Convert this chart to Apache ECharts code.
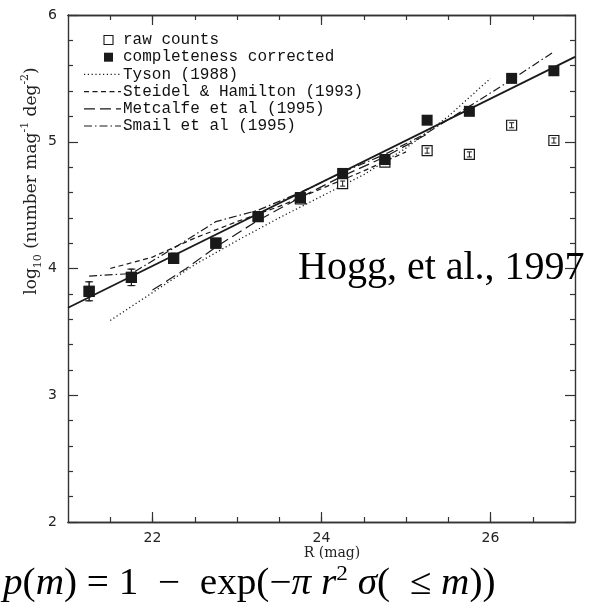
<!DOCTYPE html>
<html>
<head>
<meta charset="utf-8">
<script src="https://cdn.jsdelivr.net/npm/echarts@6/dist/echarts.min.js"></script>
<style>
  html, body { margin: 0; padding: 0; background: #ffffff; }
  #chart { width: 590px; height: 609px; }
</style>
</head>
<body>
<div id="chart"></div>
<script>
// Galaxy number counts in R, half-magnitude bins
const magBins = [21.25, 21.75, 22.25, 22.75, 23.25, 23.75, 24.25, 24.75, 25.25, 25.75, 26.25, 26.75];
const correctedCounts = [3.82, 3.93, 4.08, 4.20, 4.41, 4.56, 4.75, 4.86, 5.17, 5.24, 5.50, 5.56];
const correctedErr    = [0.075, 0.065, 0.04, 0.02, 0.02, 0.015, 0.015, 0.015, 0.015, 0.015, 0.015, 0.015];
const rawCounts       = [3.82, 3.93, 4.08, 4.20, 4.41, 4.55, 4.67, 4.84, 4.93, 4.90, 5.13, 5.01];
const rawErr          = [0.075, 0.065, 0.04, 0.02, 0.02, 0.02, 0.02, 0.02, 0.02, 0.02, 0.02, 0.02];

// Power-law fit across the full range
const fitMag = [21, 27];
const fitCounts = [3.69, 5.67];

// Published count curves
const tysonMag = [21.5, 22.0, 22.5, 23.0, 23.5, 24.0, 24.5, 25.0, 25.5, 26.0];
const tysonCounts = [3.59, 3.81, 4.03, 4.22, 4.40, 4.57, 4.74, 4.95, 5.20, 5.50];
const steidelMag = [21.5, 22.0, 22.5, 23.0, 23.5, 24.0, 24.5, 25.0];
const steidelCounts = [4.00, 4.09, 4.24, 4.37, 4.49, 4.63, 4.77, 4.92];
const metcalfeMag = [22.0, 22.4, 22.75, 23.25, 23.75, 24.25, 24.75, 25.25];
const metcalfeCounts = [3.83, 4.00, 4.17, 4.38, 4.56, 4.73, 4.88, 5.06];
const smailMag = [21.25, 21.75, 22.25, 22.75, 23.25, 23.75, 24.25, 24.75, 25.25, 25.75, 26.25, 26.75];
const smailCounts = [3.94, 3.96, 4.16, 4.37, 4.46, 4.60, 4.76, 4.90, 5.07, 5.28, 5.49, 5.71];

// Axis ticks
const xMajorTicks = [22, 24, 26];
const xMinorTicks = [21.5, 22, 22.5, 23, 23.5, 24, 24.5, 25, 25.5, 26, 26.5];
const xTickLabels = [22, 24, 26];

const legendNames = ['raw counts', 'completeness corrected', 'Tyson (1988)',
  'Steidel & Hamilton (1993)', 'Metcalfe et al (1995)', 'Smail et al (1995)'];

const ink = '#1a1a1a';
const zip = (xs, ys) => xs.map((x, i) => [x, ys[i]]);

function errorBars(name, xs, ys, errs, capHalf, z) {
  return {
    type: 'custom',
    name: name,
    z: z,
    silent: true,
    encode: { x: 0, y: [1, 2] },
    data: xs.map((x, i) => [x, ys[i] - errs[i], ys[i] + errs[i]]),
    renderItem: function (params, api) {
      const lo = api.coord([api.value(0), api.value(1)]);
      const hi = api.coord([api.value(0), api.value(2)]);
      const st = { stroke: ink, lineWidth: 1 };
      return {
        type: 'group',
        children: [
          { type: 'line', shape: { x1: lo[0], y1: lo[1], x2: hi[0], y2: hi[1] }, style: st },
          { type: 'line', shape: { x1: lo[0] - capHalf, y1: lo[1], x2: lo[0] + capHalf, y2: lo[1] }, style: st },
          { type: 'line', shape: { x1: hi[0] - capHalf, y1: hi[1], x2: hi[0] + capHalf, y2: hi[1] }, style: st }
        ]
      };
    }
  };
}

function curve(name, xs, ys, dash, width) {
  return {
    type: 'line',
    name: name,
    data: zip(xs, ys),
    showSymbol: false,
    symbol: 'none',
    smooth: false,
    z: 3,
    lineStyle: { color: ink, width: width, type: dash, cap: 'butt' }
  };
}

const dotDash = [1.2, 2.6];
const shortDash = [5, 3.5];
const longDash = [11, 5];
const dashDot = [8, 3, 1.5, 3];

const tickLabelFont = { fontFamily: 'DejaVu Sans', fontSize: 14, color: '#222' };
const frameLine = { show: true, lineStyle: { color: '#333', width: 1.4 } };

function xAxis(position, ticks, len, labels) {
  return {
    type: 'value', position: position, min: 21, max: 27,
    axisLine: frameLine,
    axisTick: { show: true, inside: true, length: len, customValues: ticks,
      lineStyle: { color: '#333', width: 1.2 } },
    axisLabel: labels
      ? Object.assign({ show: true, customValues: labels, margin: 9 }, tickLabelFont)
      : { show: false },
    splitLine: { show: false }
  };
}

function yAxis(position, labels) {
  return {
    type: 'value', position: position, min: 2, max: 6, interval: 1,
    axisLine: frameLine,
    axisTick: { show: true, inside: true, length: 10, lineStyle: { color: '#333', width: 1.2 } },
    minorTick: { show: true, splitNumber: 5, length: 5, lineStyle: { color: '#333', width: 1.2 } },
    axisLabel: labels ? Object.assign({ show: true, margin: 11 }, tickLabelFont) : { show: false },
    splitLine: { show: false }
  };
}

// Hand-drawn legend block (line samples and markers beside typewriter text)
const legendX = 84, legendTextX = 123, legendY0 = 40, legendStep = 17.2;
const legendSamples = [
  { kind: 'open' }, { kind: 'filled' },
  { kind: 'line', dash: dotDash }, { kind: 'line', dash: shortDash },
  { kind: 'line', dash: longDash }, { kind: 'line', dash: dashDot }
];
const legendGraphics = [];
legendNames.forEach(function (name, i) {
  const y = legendY0 + i * legendStep;
  const s = legendSamples[i];
  if (s.kind === 'open') {
    legendGraphics.push({ type: 'rect', shape: { x: 104, y: y - 4.5, width: 9, height: 9 },
      style: { fill: '#fff', stroke: ink, lineWidth: 1.1 } });
  } else if (s.kind === 'filled') {
    legendGraphics.push({ type: 'rect', shape: { x: 104, y: y - 4.5, width: 9, height: 9 },
      style: { fill: ink } });
  } else {
    legendGraphics.push({ type: 'line', shape: { x1: legendX, y1: y, x2: legendTextX - 2, y2: y },
      style: { stroke: ink, lineWidth: 1.2, lineDash: s.dash } });
  }
  legendGraphics.push({ type: 'text', x: legendTextX, y: y,
    style: { text: name, fontFamily: 'Liberation Mono', fontSize: 16, fill: '#111',
      textVerticalAlign: 'middle', textAlign: 'left' } });
});

const chart = echarts.init(document.getElementById('chart'), null, { renderer: 'canvas' });
chart.setOption({
  animation: false,
  backgroundColor: '#ffffff',
  grid: { left: 68, right: 15, top: 15, bottom: 87, containLabel: false },
  xAxis: [
    xAxis('bottom', xMajorTicks, 10, xTickLabels),
    xAxis('top', xMajorTicks, 10, null),
    xAxis('bottom', xMinorTicks, 5, null),
    xAxis('top', xMinorTicks, 5, null)
  ],
  yAxis: [yAxis('left', true), yAxis('right', false)],
  series: [
    curve('fit', fitMag, fitCounts, 'solid', 1.8),
    curve(legendNames[2], tysonMag, tysonCounts, dotDash, 1.3),
    curve(legendNames[3], steidelMag, steidelCounts, shortDash, 1.2),
    curve(legendNames[4], metcalfeMag, metcalfeCounts, longDash, 1.2),
    curve(legendNames[5], smailMag, smailCounts, dashDot, 1.2),
    {
      type: 'scatter', name: legendNames[0], z: 5,
      data: zip(magBins, rawCounts), symbol: 'rect', symbolSize: 10,
      itemStyle: { color: '#fff', borderColor: ink, borderWidth: 1.2, opacity: 1 }
    },
    errorBars('raw errors', magBins, rawCounts, rawErr, 2.5, 6),
    {
      type: 'scatter', name: legendNames[1], z: 7,
      data: zip(magBins, correctedCounts), symbol: 'rect', symbolSize: 11,
      itemStyle: { color: ink, opacity: 1 }
    },
    errorBars('corrected errors', magBins, correctedCounts, correctedErr, 4, 8)
  ],
  graphic: legendGraphics.concat([
    {
      type: 'text', x: 32, y: 181, rotation: Math.PI / 2,
      style: {
        text: 'log{sub|10} (number mag{sup|-1} deg{sup|-2})',
        fontFamily: 'DejaVu Serif', fontSize: 17, fill: '#222', lineHeight: 24,
        textAlign: 'center', textVerticalAlign: 'middle',
        rich: {
          sub: { fontFamily: 'DejaVu Serif', fontSize: 11, verticalAlign: 'bottom', lineHeight: 24, fill: '#222' },
          sup: { fontFamily: 'DejaVu Serif', fontSize: 11, verticalAlign: 'top', lineHeight: 24, fill: '#222' }
        }
      }
    },
    {
      type: 'text', x: 332, y: 553,
      style: { text: 'R (mag)', fontFamily: 'DejaVu Serif', fontSize: 14, fill: '#222',
        textAlign: 'center', textVerticalAlign: 'middle' }
    },
    {
      type: 'text', x: 298, y: 268, z: 20,
      style: { text: 'Hogg, et al., 1997', fontFamily: 'Liberation Serif', fontSize: 40, fill: '#000',
        textAlign: 'left', textVerticalAlign: 'middle' }
    },
    {
      type: 'text', x: 3, y: 584, scaleX: 1.06,
      style: {
        text: '{i|p}({i|m}) = 1  \u2212  exp(\u2212{i|\u03c0} {i|r}{s|2} {i|\u03c3}(  \u2264 {i|m}))',
        fontFamily: 'Liberation Serif', fontSize: 37, fill: '#000', lineHeight: 42,
        textAlign: 'left', textVerticalAlign: 'middle',
        rich: {
          i: { fontFamily: 'Liberation Serif', fontStyle: 'italic', fontSize: 37, lineHeight: 42, fill: '#000' },
          s: { fontFamily: 'Liberation Serif', fontSize: 22, verticalAlign: 'top', lineHeight: 42, fill: '#000' }
        }
      }
    }
  ])
});
</script>
</body>
</html>
